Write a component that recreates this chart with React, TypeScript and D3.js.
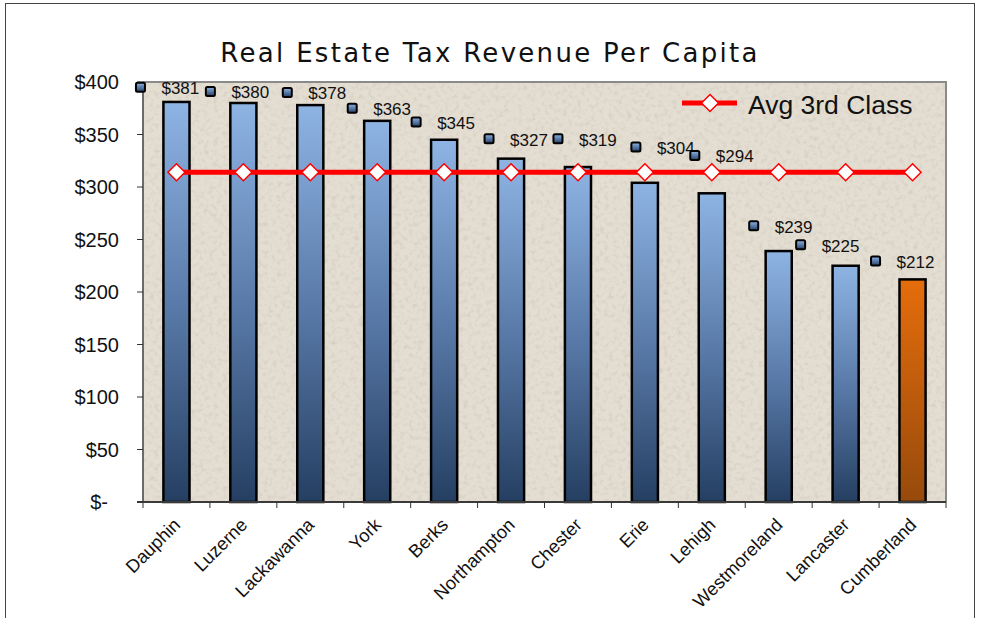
import React from "react";
import * as d3 from "d3";

const categories = [
  "Dauphin", "Luzerne", "Lackawanna", "York", "Berks", "Northampton",
  "Chester", "Erie", "Lehigh", "Westmoreland", "Lancaster", "Cumberland",
];
const values = [381, 380, 378, 363, 345, 327, 319, 304, 294, 239, 225, 212];
const avg3rdClass = 314;
const highlighted = "Cumberland";
const yTicks = [0, 50, 100, 150, 200, 250, 300, 350, 400];
// label anchor (value units) and horizontal nudge (px from bar centre)
const labelAt = [395, 391, 390, 375, 362, 346, 346, 338, 330, 263, 245, 229.5];
const labelDx = [-36, -33, -23, -25, -28, -22, -20, -9, -17, -25, -45, -37];

const W = 982;
const H = 618;
const M = { left: 143, right: 946, top: 82, bottom: 502 };

const fmt = (v: number) => (v === 0 ? "$-" : `$${v}`);

export default function App() {
  const x = d3.scaleBand<string>().domain(categories).range([M.left, M.right]).paddingInner(0).paddingOuter(0);
  const y = d3.scaleLinear().domain([0, 400]).range([M.bottom, M.top]);
  const bw = x.bandwidth();
  const barW = bw * 0.39;
  const cx = (c: string) => (x(c) as number) + bw / 2;
  const lineGen = d3.line<string>().x((c) => cx(c)).y(() => y(avg3rdClass));
  const diamond = (px: number, py: number, r: number) =>
    `M${px},${py - r}L${px + r},${py}L${px},${py + r}L${px - r},${py}Z`;
  const bounds = [...categories.map((c) => x(c) as number), M.right];

  return (
    <div style={{ position: "fixed", left: 0, top: 0 }}>
      <svg width={W} height={H} style={{ display: "block", background: "#fff" }}>
        <defs>
          <linearGradient id="blueG" x1="0" y1="0" x2="0" y2="1">
            <stop offset="0" stopColor="#8EB4E3" />
            <stop offset="0.5" stopColor="#5A7BAA" />
            <stop offset="1" stopColor="#253F62" />
          </linearGradient>
          <linearGradient id="orangeG" x1="0" y1="0" x2="0" y2="1">
            <stop offset="0" stopColor="#E56D0B" />
            <stop offset="1" stopColor="#974A0C" />
          </linearGradient>
          <filter id="tex" x="0" y="0" width="100%" height="100%">
            <feTurbulence type="fractalNoise" baseFrequency="0.22" numOctaves="4" seed="7" result="n" />
            <feColorMatrix
              in="n"
              type="matrix"
              values="0 0 0 0 0.42  0 0 0 0 0.38  0 0 0 0 0.32  1.3 0 0 0 -0.62"
            />
          </filter>
        </defs>

        {/* outer chart border */}
        <rect x={5.5} y={3.5} width={969} height={H + 20} fill="#fff" stroke="#444" strokeWidth={1} />

        {/* title */}
        <text
          x={490}
          y={62}
          textAnchor="middle"
          fontFamily="DejaVu Sans"
          fontSize={26}
          letterSpacing={2.3}
          fill="#111"
        >
          Real Estate Tax Revenue Per Capita
        </text>

        {/* plot area */}
        <rect x={M.left} y={M.top} width={M.right - M.left} height={M.bottom - M.top} fill="#E4DDD1" />
        <rect
          x={M.left}
          y={M.top}
          width={M.right - M.left}
          height={M.bottom - M.top}
          fill="#fff"
          filter="url(#tex)"
          opacity={0.5}
        />
        <path
          d={`M${M.left},${M.top}H${M.right}V${M.bottom}`}
          fill="none"
          stroke="#8A8A8A"
          strokeWidth={2}
        />

        {/* bars */}
        {categories.map((c, i) => (
          <rect
            key={c}
            x={cx(c) - barW / 2}
            y={y(values[i])}
            width={barW}
            height={y(0) - y(values[i])}
            fill={c === highlighted ? "url(#orangeG)" : "url(#blueG)"}
            stroke="#000"
            strokeWidth={2.5}
          />
        ))}

        {/* axes */}
        <line x1={M.left} x2={M.left} y1={M.top} y2={M.bottom} stroke="#6A6A6A" strokeWidth={2} />
        <line x1={M.left - 6} x2={M.right} y1={M.bottom} y2={M.bottom} stroke="#3A3A3A" strokeWidth={2} />
        {yTicks.map((t) => (
          <g key={t}>
            <line x1={M.left - 6} x2={M.left} y1={y(t)} y2={y(t)} stroke="#333" strokeWidth={1} />
            <text
              x={t === 0 ? 108 : 119}
              y={y(t)}
              dy="0.35em"
              textAnchor="end"
              fontFamily="Liberation Sans, Arial"
              fontSize={20}
              fill="#111"
            >
              {fmt(t)}
            </text>
          </g>
        ))}
        {bounds.map((b, i) => (
          <line key={i} x1={b} x2={b} y1={M.bottom} y2={M.bottom + 6} stroke="#333" strokeWidth={1} />
        ))}
        {categories.map((c) => (
          <text
            key={c}
            transform={`translate(${cx(c) + 5},${M.bottom + 24}) rotate(-45)`}
            textAnchor="end"
            fontFamily="Liberation Sans, Arial"
            fontSize={18.3}
            fill="#111"
          >
            {c}
          </text>
        ))}

        {/* average line */}
        <path d={lineGen(categories) as string} fill="none" stroke="#FF0000" strokeWidth={5} />
        {categories.map((c) => (
          <path key={c} d={diamond(cx(c), y(avg3rdClass), 8.5)} fill="#fff" stroke="#FF0000" strokeWidth={1.5} />
        ))}

        {/* data labels with legend keys */}
        {categories.map((c, i) => {
          const sx = cx(c) + labelDx[i];
          const sy = y(labelAt[i]);
          return (
            <g key={c}>
              <rect
                x={sx - 4.5}
                y={sy - 4.5}
                width={9}
                height={9}
                rx={1.5}
                fill="url(#blueG)"
                stroke="#000"
                strokeWidth={2}
              />
              <text
                x={sx + 21}
                y={sy + 1}
                dy="0.35em"
                fontFamily="Liberation Sans, Arial"
                fontSize={17}
                fill="#111"
              >
                {fmt(values[i])}
              </text>
            </g>
          );
        })}

        {/* legend */}
        <line x1={682} x2={737} y1={103} y2={103} stroke="#FF0000" strokeWidth={5} />
        <path d={diamond(710, 103, 8.5)} fill="#fff" stroke="#FF0000" strokeWidth={1.5} />
        <text x={748} y={114} fontFamily="Liberation Sans, Arial" fontSize={26.5} fill="#111">
          Avg 3rd Class
        </text>
      </svg>
    </div>
  );
}
